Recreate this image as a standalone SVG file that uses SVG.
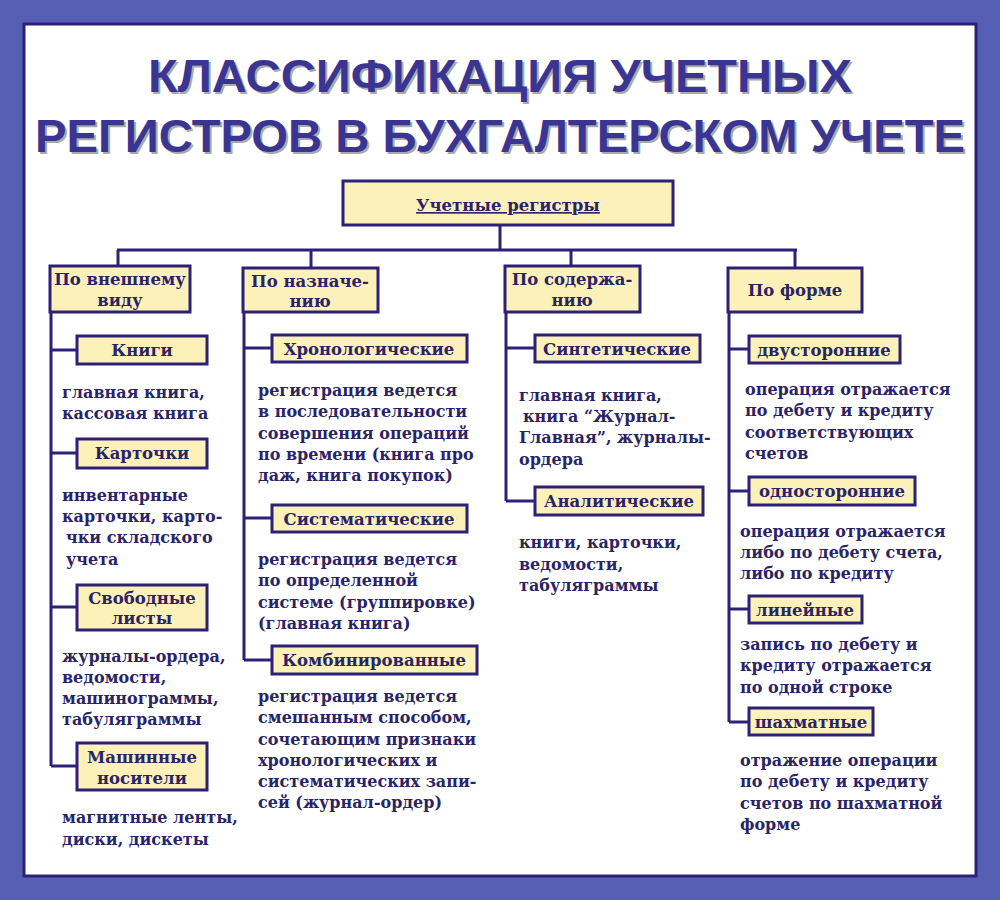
<svg xmlns="http://www.w3.org/2000/svg" width="1000" height="900" viewBox="0 0 1000 900">
<style>
.b{fill:#fcf1b9;stroke:#2c2077;stroke-width:3}
.t{font-family:"DejaVu Serif",serif;font-weight:bold;font-size:16px;fill:#2a2466}
.h{font-family:"DejaVu Serif",serif;font-weight:bold;font-size:16.5px;fill:#2a2466;text-anchor:middle}
.c line{stroke:#2c2077;stroke-width:3}
</style>
<rect x="0" y="0" width="1000" height="900" fill="#5560b4"/>
<rect x="24" y="24" width="952" height="852" fill="#ffffff" stroke="#2c2077" stroke-width="3"/>
<g font-family="'Liberation Sans',sans-serif" font-weight="bold" font-size="46" text-anchor="middle">
<text x="502" y="94" fill="#aaa" textLength="704" lengthAdjust="spacingAndGlyphs">КЛАССИФИКАЦИЯ УЧЕТНЫХ</text>
<text x="500" y="92" fill="#3a3592" textLength="704" lengthAdjust="spacingAndGlyphs">КЛАССИФИКАЦИЯ УЧЕТНЫХ</text>
<text x="502" y="154" fill="#aaa" textLength="930" lengthAdjust="spacingAndGlyphs">РЕГИСТРОВ В БУХГАЛТЕРСКОМ УЧЕТЕ</text>
<text x="500" y="152" fill="#3a3592" textLength="930" lengthAdjust="spacingAndGlyphs">РЕГИСТРОВ В БУХГАЛТЕРСКОМ УЧЕТЕ</text>
</g>
<g class="c">
<line x1="500" y1="225" x2="500" y2="250"/><line x1="117" y1="250" x2="797" y2="250"/>
<line x1="118" y1="250" x2="118" y2="266"/><line x1="311" y1="250" x2="311" y2="268"/>
<line x1="571" y1="250" x2="571" y2="266"/><line x1="795" y1="250" x2="795" y2="268"/>
<line x1="51" y1="312" x2="51" y2="766"/><line x1="244" y1="312" x2="244" y2="660"/>
<line x1="506" y1="312" x2="506" y2="501"/><line x1="729" y1="312" x2="729" y2="722"/>
<line x1="51" y1="350" x2="77" y2="350"/><line x1="51" y1="453" x2="77" y2="453"/><line x1="51" y1="607" x2="77" y2="607"/><line x1="51" y1="766" x2="77" y2="766"/>
<line x1="244" y1="348" x2="272" y2="348"/><line x1="244" y1="518" x2="272" y2="518"/><line x1="244" y1="660" x2="272" y2="660"/>
<line x1="506" y1="348" x2="535" y2="348"/><line x1="506" y1="501" x2="535" y2="501"/>
<line x1="729" y1="349" x2="749" y2="349"/><line x1="729" y1="491" x2="749" y2="491"/><line x1="729" y1="609" x2="749" y2="609"/><line x1="729" y1="722" x2="749" y2="722"/>
</g>
<g id="root"><rect class="b" x="343" y="181" width="330" height="44"/><text class="h" x="508" y="211" font-size="21" text-decoration="underline">Учетные регистры</text></g>
<g id="cat1"><rect class="b" x="50" y="266" width="140" height="46"/><text class="h" x="120" y="285">По внешнему</text><text class="h" x="120" y="306">виду</text></g>
<g id="cat2"><rect class="b" x="243" y="268" width="135" height="44"/><text class="h" x="310" y="287">По назначе-</text><text class="h" x="310" y="307">нию</text></g>
<g id="cat3"><rect class="b" x="505" y="266" width="135" height="46"/><text class="h" x="572" y="285">По содержа-</text><text class="h" x="572" y="306">нию</text></g>
<g id="cat4"><rect class="b" x="728" y="268" width="134" height="44"/><text class="h" x="795" y="296">По форме</text></g>
<g id="knigi"><rect class="b" x="77" y="336" width="130" height="28"/><text class="h" x="142" y="356">Книги</text></g>
<g id="kartochki"><rect class="b" x="77" y="439" width="130" height="29"/><text class="h" x="142" y="459">Карточки</text></g>
<g id="listy"><rect class="b" x="77" y="585" width="130" height="45"/><text class="h" x="142" y="604">Свободные</text><text class="h" x="142" y="624">листы</text></g>
<g id="nositeli"><rect class="b" x="77" y="743" width="130" height="47"/><text class="h" x="142" y="763">Машинные</text><text class="h" x="142" y="784">носители</text></g>
<g id="chrono"><rect class="b" x="272" y="335" width="195" height="27"/><text class="h" x="369" y="355">Хронологические</text></g>
<g id="sist"><rect class="b" x="272" y="505" width="195" height="27"/><text class="h" x="369" y="525">Систематические</text></g>
<g id="komb"><rect class="b" x="272" y="646" width="205" height="28"/><text class="h" x="374" y="666">Комбинированные</text></g>
<g id="sint"><rect class="b" x="535" y="335" width="165" height="27"/><text class="h" x="617" y="355">Синтетические</text></g>
<g id="anal"><rect class="b" x="535" y="487" width="168" height="28"/><text class="h" x="619" y="507">Аналитические</text></g>
<g id="dvu"><rect class="b" x="749" y="336" width="151" height="27"/><text class="h" x="824" y="356">двусторонние</text></g>
<g id="odno"><rect class="b" x="749" y="477" width="166" height="28"/><text class="h" x="832" y="497">односторонние</text></g>
<g id="lin"><rect class="b" x="749" y="596" width="113" height="27"/><text class="h" x="805" y="616">линейные</text></g>
<g id="shah"><rect class="b" x="749" y="708" width="124" height="27"/><text class="h" x="811" y="728">шахматные</text></g>
<g class="t">
<text x="62" y="398">главная книга,</text><text x="62" y="419">кассовая книга</text>
<text x="62" y="501">инвентарные</text><text x="62" y="522">карточки, карто-</text><text x="66" y="543">чки складского</text><text x="66" y="565">учета</text>
<text x="62" y="662">журналы-ордера,</text><text x="62" y="683">ведомости,</text><text x="62" y="704">машинограммы,</text><text x="62" y="725">табуляграммы</text>
<text x="62" y="823">магнитные ленты,</text><text x="62" y="845">диски, дискеты</text>
<text x="258" y="396">регистрация ведется</text><text x="258" y="417">в последовательности</text><text x="258" y="439">совершения операций</text><text x="258" y="460">по времени (книга про</text><text x="258" y="481">даж, книга покупок)</text>
<text x="258" y="565">регистрация ведется</text><text x="258" y="586">по определенной</text><text x="258" y="608">системе (группировке)</text><text x="258" y="629">(главная книга)</text>
<text x="258" y="702">регистрация ведется</text><text x="258" y="723">смешанным способом,</text><text x="258" y="745">сочетающим признаки</text><text x="258" y="766">хронологических и</text><text x="258" y="787">систематических запи-</text><text x="258" y="808">сей (журнал-ордер)</text>
<text x="519" y="401">главная книга,</text><text x="523" y="422">книга “Журнал-</text><text x="519" y="443">Главная”, журналы-</text><text x="519" y="465">ордера</text>
<text x="519" y="548">книги, карточки,</text><text x="519" y="570">ведомости,</text><text x="519" y="591">табуляграммы</text>
<text x="745" y="395">операция отражается</text><text x="745" y="416">по дебету и кредиту</text><text x="745" y="438">соответствующих</text><text x="745" y="459">счетов</text>
<text x="740" y="537">операция отражается</text><text x="740" y="558">либо по дебету счета,</text><text x="740" y="579">либо по кредиту</text>
<text x="740" y="650">запись по дебету и</text><text x="740" y="671">кредиту отражается</text><text x="740" y="693">по одной строке</text>
<text x="740" y="766">отражение операции</text><text x="740" y="787">по дебету и кредиту</text><text x="740" y="809">счетов по шахматной</text><text x="740" y="830">форме</text>
</g>
</svg>
